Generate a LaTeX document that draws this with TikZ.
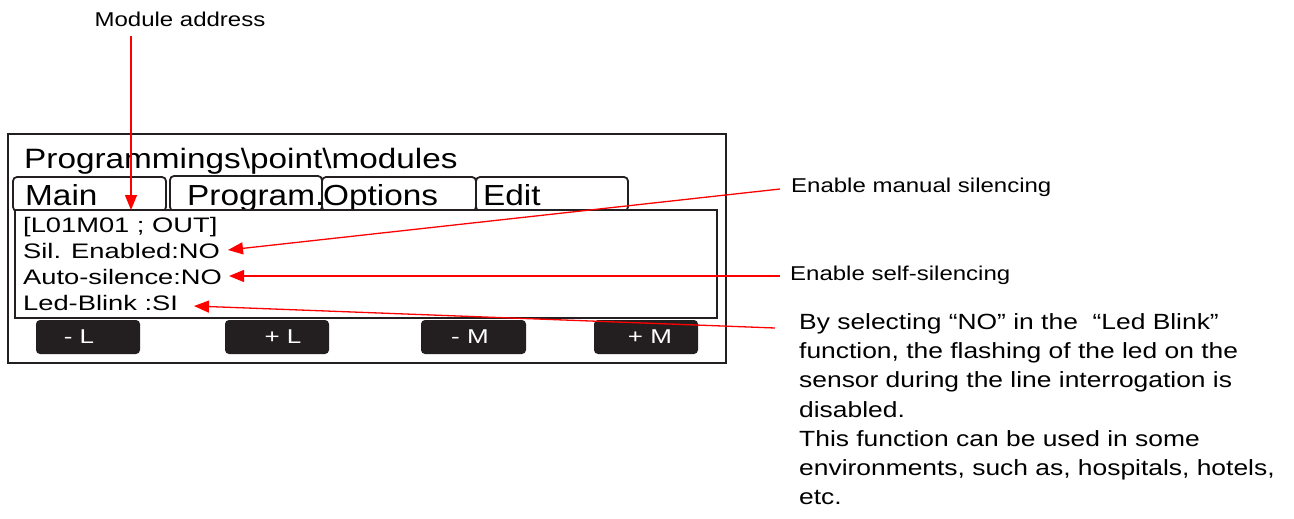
\documentclass[tikz,border=0pt]{standalone}
\usepackage{fontspec}
\setmainfont{Liberation Sans}
\newfontfamily\titlefont[FakeStretch=1.19]{Liberation Sans}
\newfontfamily\tabfont[FakeStretch=1.15]{Liberation Sans}
\newfontfamily\lcdfont[FakeStretch=1.3]{Liberation Sans}
\newfontfamily\lblfont[FakeStretch=1.2]{Liberation Sans}
\usetikzlibrary{arrows.meta}
\definecolor{btn}{HTML}{231F20}
\definecolor{arrred}{HTML}{FF0000}
\tikzset{
  frame/.style={draw=btn,line width=2pt},
  tabbox/.style={draw=btn,line width=1.8pt,rounded corners=4pt},
  btnbox/.style={fill=btn,rounded corners=4pt},
  btntext/.style={text=white,font=\lcdfont\fontsize{20}{22}\selectfont,inner sep=0pt},
  lcd/.style={anchor=base west,inner sep=0pt,font=\lcdfont\fontsize{21}{24}\selectfont},
  tabtext/.style={anchor=base west,inner sep=0pt,font=\tabfont\fontsize{29}{34}\selectfont},
  lbl/.style={anchor=west,inner sep=0pt,font=\lblfont\fontsize{20}{24}\selectfont},
  arr/.style={draw=arrred,line width=1.3pt,-{Triangle[length=15pt,width=12pt]}},
}
\begin{document}
\begin{tikzpicture}[x=1pt,y=-1pt]
\useasboundingbox (0,0) rectangle (1294,519);
% outer frame
\draw[frame] (8,134) rectangle (726,363);
\node[anchor=base west,inner sep=0pt,font=\titlefont\fontsize{28}{32}\selectfont] (title) at (24,168) {Programmings\textbackslash point\textbackslash modules};
% tabs
\draw[tabbox] (13,211) rectangle (166,177);
\draw[tabbox] (170,211) rectangle (322,176);
\draw[tabbox] (322,211) rectangle (476,177);
\draw[tabbox] (476,211) rectangle (628,177);
\node[tabtext] (tmain) at (25,205) {Main};
\node[tabtext] (tprog) at (187,205) {Program.};
\node[tabtext] (topt) at (323,205) {Options};
\node[tabtext] (tedit) at (483,205) {Edit};
% inner box
\draw[frame,fill=white] (15,210) rectangle (717,318);
\node[lcd] (addr) at (23,232) {[L01M01 ; OUT]};
\node[lcd] (sil) at (23,258) {Sil. Enabled:NO};
\node[lcd] (auto) at (23,284) {Auto-silence:NO};
\node[lcd] (led) at (23,310) {Led-Blink :SI};
% buttons
\fill[btnbox] (36,320) rectangle (140,354);
\fill[btnbox] (225,320) rectangle (329,354);
\fill[btnbox] (421,320) rectangle (526,354);
\fill[btnbox] (594,320) rectangle (698,354);
\node[btntext] (bml) at (79,337) {- L};
\node[btntext] (bpl) at (283,337) {+ L};
\node[btntext] (bmm) at (470,337) {- M};
\node[btntext] (bpm) at (650,337) {+ M};
% labels
\node[anchor=base,inner sep=0pt,font=\lblfont\fontsize{20}{24}\selectfont] (madr) at (180,27) {Module address};
\coordinate (madrs) at (131,36);
\node[lbl] (lman) at (791,187) {Enable manual silencing};
\node[lbl] (lself) at (790,275) {Enable self-silencing};
\node[anchor=north west,inner sep=0pt,align=left,font=\lblfont\fontsize{22}{29.3}\selectfont] (ldesc) at (799,313)
 {By selecting “NO” in the \ “Led Blink”\\
  function, the flashing of the led on the\\
  sensor during the line interrogation is\\
  disabled.\\
  This function can be used in some\\
  environments, such as, hospitals, hotels,\\
  etc.};
\coordinate (sman) at (780,189);
\coordinate (sself) at (780,276);
\coordinate (sled) at (775,328);
\coordinate (tadr) at (131,210);
\coordinate (tsil) at (228,250);
\coordinate (tauto) at (229,276);
\coordinate (tled) at (194,306);
% arrows
\draw[arr] (madrs) -- (tadr);
\draw[arr] (sman) -- (tsil);
\draw[arr] (sself) -- (tauto);
\draw[arr] (sled) -- (tled);
\end{tikzpicture}
\end{document}
